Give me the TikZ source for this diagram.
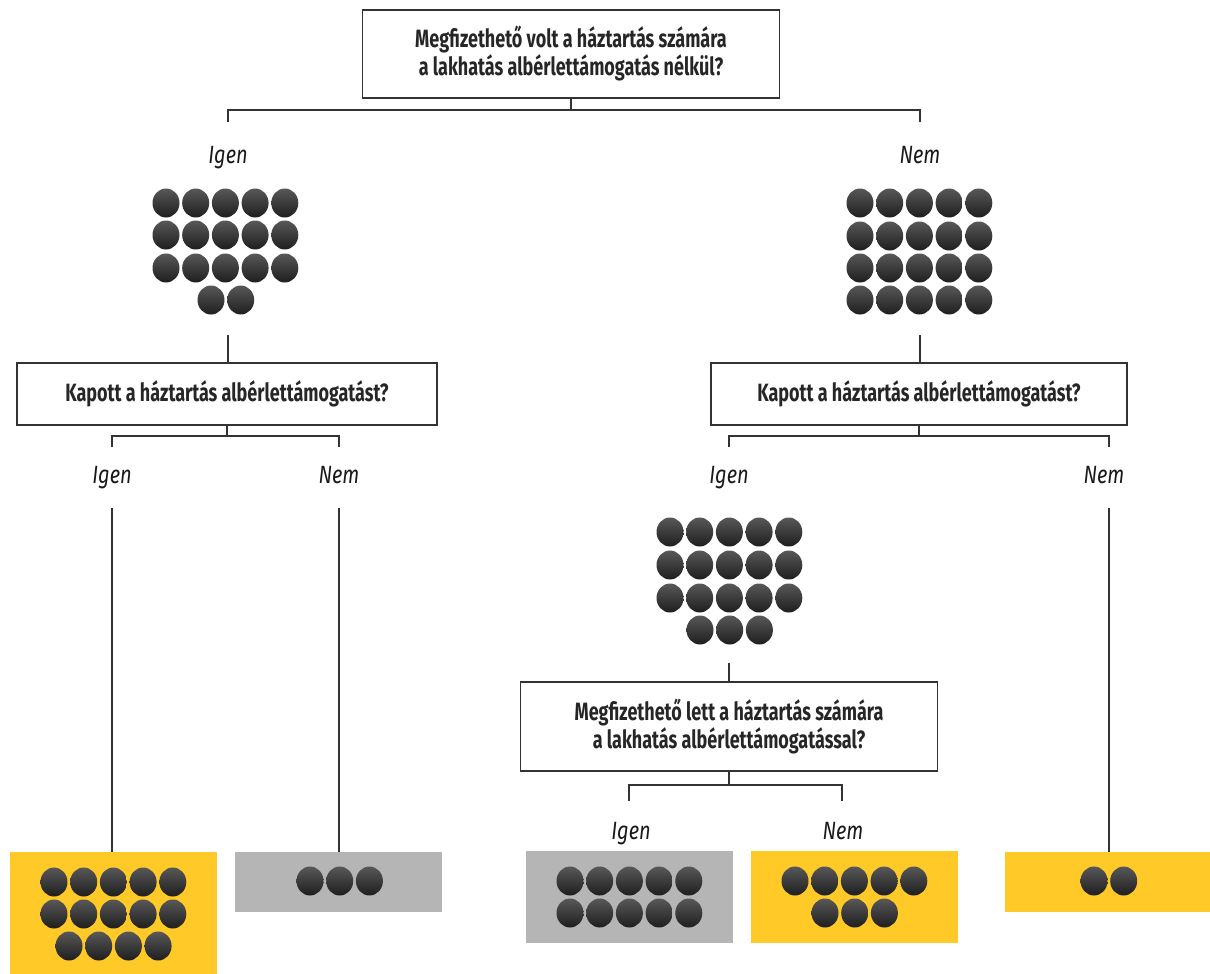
\documentclass[tikz,border=0pt]{standalone}
\usepackage{fontspec}
\setmainfont{Fira Sans}[FakeStretch=0.72]
\newfontfamily\lblfont{Fira Sans}[FakeStretch=0.8]
\definecolor{ylw}{HTML}{FFC928}
\definecolor{gry}{HTML}{B5B5B5}
\definecolor{dtop}{HTML}{585858}
\definecolor{dbot}{HTML}{1E1E1E}
\definecolor{ln}{HTML}{333333}
\newcommand\dotline[3]{%
  \pgfmathsetmacro\xs{#1-(#3-1)*15}%
  \foreach \k in {1,...,#3}{%
    \shade[dotball] ({\xs+(\k-1)*29.7},#2) ellipse[x radius=13.5,y radius=14.5];}}
\begin{document}
\begin{tikzpicture}[x=1pt,y=-1pt,
  qbox/.style={draw=ln, line width=1.3pt, fill=white, align=center, inner sep=0pt,
    font=\fontsize{25}{28}\selectfont\bfseries, text=black!85},
  lbl/.style={font=\lblfont\fontsize{25}{26}\selectfont\itshape, text=black!90, inner sep=0pt, anchor=base},
  conn/.style={draw=ln, line width=1.2pt},
  ybox/.style={fill=ylw, draw=none, inner sep=0pt},
  gbox/.style={fill=gry, draw=none, inner sep=0pt},
  dotball/.style={top color=dtop, bottom color=dbot}]
\useasboundingbox (0,0) rectangle (1210,974);
% question boxes
\node[qbox, minimum width=417, minimum height=88] (q1) at (571,54) {Megfizethető volt a háztartás számára\\a lakhatás albérlettámogatás nélkül?};
\node[qbox, minimum width=420, minimum height=62] (q2) at (227,394) {Kapott a háztartás albérlettámogatást?};
\node[qbox, minimum width=416, minimum height=62] (q3) at (919,394) {Kapott a háztartás albérlettámogatást?};
\node[qbox, minimum width=417, minimum height=89] (q4) at (729,726.5) {Megfizethető lett a háztartás számára\\a lakhatás albérlettámogatással?};
% labels
\node[lbl] (l1) at (228,163) {Igen};
\node[lbl] (l2) at (920,163) {Nem};
\node[lbl] (l3) at (112,483) {Igen};
\node[lbl] (l4) at (339,483) {Nem};
\node[lbl] (l5) at (729,483) {Igen};
\node[lbl] (l6) at (1104,483) {Nem};
\node[lbl] (l7) at (631,839) {Igen};
\node[lbl] (l8) at (843,839) {Nem};
% result boxes
\node[ybox, minimum width=207, minimum height=122] (r1) at (113.5,913) {};
\node[gbox, minimum width=207, minimum height=60] (r2) at (338.5,882) {};
\node[gbox, minimum width=207, minimum height=92] (r3) at (629.5,897) {};
\node[ybox, minimum width=207, minimum height=92] (r4) at (854.5,897) {};
\node[ybox, minimum width=205, minimum height=60] (r5) at (1107.5,882) {};
% helper coordinates
\coordinate (b1) at (0,110);
\coordinate (b2) at (0,436);
\coordinate (b3) at (0,785);
\coordinate (t1) at (228,122);
\coordinate (t2) at (920,122);
\coordinate (t3) at (112,447);
\coordinate (t4) at (339,447);
\coordinate (t5) at (729,447);
\coordinate (t6) at (1109,447);
\coordinate (t7) at (629,801);
\coordinate (t8) at (842,801);
\coordinate (c1) at (228,335);
\coordinate (c2) at (920,335);
\coordinate (c5) at (729,663);
\coordinate (s3) at (112,508);
\coordinate (s4) at (339,508);
\coordinate (s6) at (1109,508);
% connectors
\draw[conn] (q1.south) -- (q1.south|-b1);
\draw[conn] (t1) -- (t1|-b1) -- (t2|-b1) -- (t2);
\draw[conn] (c1) -- (c1|-q2.north);
\draw[conn] (c2) -- (c2|-q3.north);
\draw[conn] (q2.south) -- (q2.south|-b2);
\draw[conn] (t3) -- (t3|-b2) -- (t4|-b2) -- (t4);
\draw[conn] (q3.south) -- (q3.south|-b2);
\draw[conn] (t5) -- (t5|-b2) -- (t6|-b2) -- (t6);
\draw[conn] (s3) -- (s3|-r1.north);
\draw[conn] (s4) -- (s4|-r2.north);
\draw[conn] (s6) -- (s6|-r5.north);
\draw[conn] (c5) -- (c5|-q4.north);
\draw[conn] (q4.south) -- (q4.south|-b3);
\draw[conn] (t7) -- (t7|-b3) -- (t8|-b3) -- (t8);
% dot clusters
\dotline{226}{203}{5}\dotline{226}{235}{5}\dotline{226}{268}{5}\dotline{226}{300}{2}
\dotline{920}{203}{5}\dotline{920}{236}{5}\dotline{920}{268}{5}\dotline{920}{300}{5}
\dotline{730}{532}{5}\dotline{730}{565}{5}\dotline{730}{598}{5}\dotline{730}{630}{3}
\dotline{114}{882}{5}\dotline{114}{914}{5}\dotline{114}{946}{4}
\dotline{340}{881}{3}
\dotline{630}{881}{5}\dotline{630}{913}{5}
\dotline{855}{881}{5}\dotline{855}{913}{3}
\dotline{1109}{881}{2}
\end{tikzpicture}
\end{document}
